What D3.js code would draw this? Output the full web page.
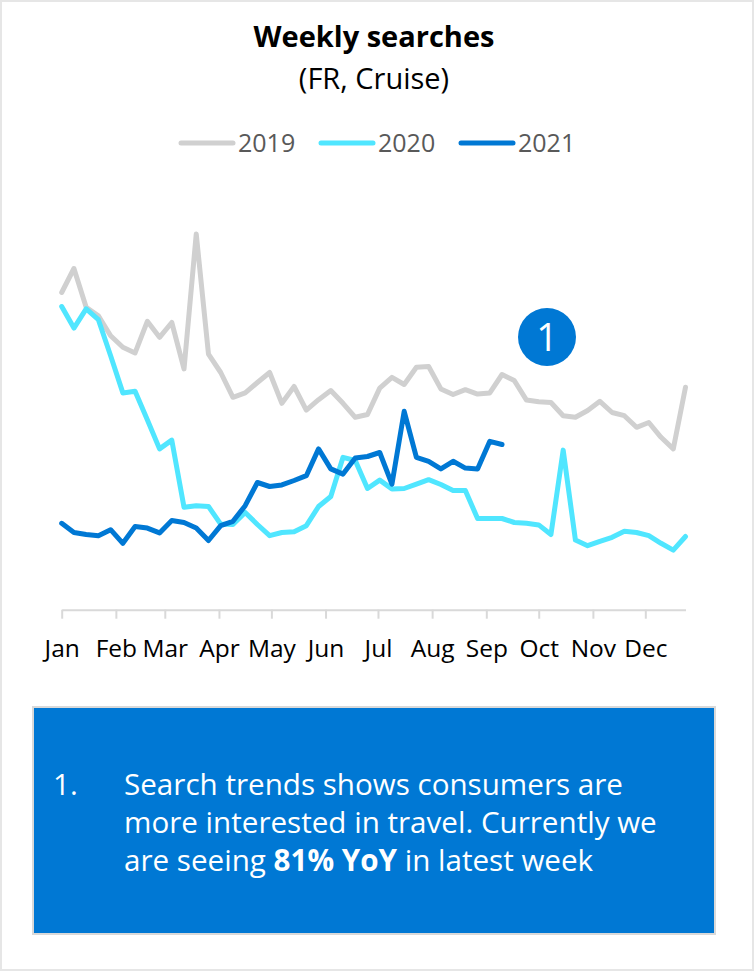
<!DOCTYPE html>
<html>
<head>
<meta charset="utf-8">
<script src="https://cdn.jsdelivr.net/npm/d3@7"></script>
<style>
  html, body { margin: 0; padding: 0; background: #fff; }
  svg { display: block; font-family: "Open Sans", "Noto Sans", sans-serif; }
</style>
</head>
<body>
<svg id="chart" width="754" height="971"></svg>
<script>
// Weekly search index, one value per week (week 1 .. 52)
const series2019 = [79.3, 85.3, 75.6, 73.5, 68.5, 65.6, 64.2, 72.1, 68.1, 71.8, 60.2, 93.9, 63.9,
  59.3, 53.1, 54.2, 56.8, 59.3, 51.6, 55.8, 49.9, 52.5, 54.8, 51.6, 48.1, 48.8, 55.4,
  58.1, 56.3, 60.6, 60.8, 55.2, 53.8, 55.0, 53.9, 54.2, 58.8, 57.3, 52.4, 52.0, 51.8,
  48.5, 48.1, 49.8, 52.1, 49.3, 48.5, 45.6, 46.8, 43.1, 40.2, 55.6];
const series2020 = [75.8, 70.4, 75.2, 72.5, 63.5, 54.2, 54.6, 47.5, 40.2, 42.4, 25.6, 26.0, 25.8,
  21.4, 21.3, 24.3, 21.3, 18.5, 19.3, 19.5, 21.0, 25.8, 28.3, 38.1, 37.3, 30.3, 32.4,
  30.2, 30.3, 31.4, 32.5, 31.3, 29.8, 29.8, 22.8, 22.8, 22.8, 21.8, 21.6, 21.2, 18.8,
  39.9, 17.4, 16.0, 17.1, 18.1, 19.6, 19.3, 18.5, 16.6, 14.9, 18.3];
const series2021 = [21.6, 19.3, 18.8, 18.5, 20.0, 16.6, 20.8, 20.4, 19.2, 22.3, 21.8, 20.4, 17.3,
  21.0, 22.1, 26.0, 31.8, 30.8, 31.2, 32.3, 33.5, 40.2, 35.2, 33.9, 37.9, 38.3, 39.3,
  31.4, 49.6, 38.1, 37.1, 35.2, 37.1, 35.4, 35.2, 42.1, 41.3];

const seriesNames = ["2019", "2020", "2021"];
const seriesColors = ["#d0d0d0", "#50e6ff", "#0078d4"];
const monthLabels = ["Jan", "Feb", "Mar", "Apr", "May", "Jun", "Jul", "Aug", "Sep", "Oct", "Nov", "Dec"];

const titleText = "Weekly searches";
const subtitleText = "(FR, Cruise)";
const badgeText = "1";
const noteNumber = "1.";
const noteLines = [
  [{ t: "Search trends shows consumers are" }],
  [{ t: "more interested in travel. Currently we" }],
  [{ t: "are seeing " }, { t: "81% YoY", bold: true }, { t: " in latest week" }]
];

// Week start dates along a calendar year
const yearStart = new Date(2019, 0, 1);
const weeks = d3.timeDay.range(yearStart, new Date(2019, 11, 25), 7);
const monthStarts = d3.timeMonth.range(yearStart, new Date(2020, 0, 1));

const svg = d3.select("#chart");
const W = 754, H = 971;

// Outer frame
svg.append("rect")
  .attr("x", 1).attr("y", 1).attr("width", W - 2).attr("height", H - 2)
  .attr("fill", "#fff").attr("stroke", "#e6e6e6").attr("stroke-width", 2);

// Titles
svg.append("text").attr("x", 374).attr("y", 47)
  .attr("text-anchor", "middle").attr("font-size", 29).attr("font-weight", 700)
  .attr("fill", "#000").text(titleText);
svg.append("text").attr("x", 374).attr("y", 89)
  .attr("text-anchor", "middle").attr("font-size", 29)
  .attr("fill", "#000").text(subtitleText);

// Legend
const legendX = [179, 319, 459];
const legend = svg.append("g");
seriesNames.forEach((name, i) => {
  const g = legend.append("g").attr("transform", `translate(${legendX[i]},143)`);
  g.append("line").attr("x1", 2).attr("x2", 54).attr("y1", 0).attr("y2", 0)
    .attr("stroke", seriesColors[i]).attr("stroke-width", 5).attr("stroke-linecap", "round");
  g.append("text").attr("x", 59).attr("y", 9).attr("font-size", 25)
    .attr("fill", "#595959").text(name);
});

// Scales
const x = d3.scaleTime()
  .domain([weeks[0], weeks[weeks.length - 1]])
  .range([61.7, 685.5]);
const y = d3.scaleLinear().domain([0, 100]).range([609.7, 209.7]);

// X axis with month ticks
const xAxis = d3.axisBottom(x)
  .tickValues(monthStarts)
  .tickSize(9)
  .tickSizeOuter(0)
  .tickPadding(21)
  .tickFormat((d, i) => monthLabels[i]);
const axisG = svg.append("g").attr("transform", `translate(0,${y(0)})`).call(xAxis);
axisG.select(".domain").attr("stroke", "#d9d9d9").attr("stroke-width", 2);
axisG.selectAll(".tick line").attr("stroke", "#d9d9d9").attr("stroke-width", 2);
axisG.selectAll(".tick text").attr("font-size", 24.5).attr("fill", "#000")
  .attr("font-family", "'Open Sans', sans-serif");

// Lines
const line = d3.line()
  .x((d, i) => x(weeks[i]))
  .y(d => y(d));
[series2019, series2020, series2021].forEach((s, i) => {
  svg.append("path").datum(s)
    .attr("d", line)
    .attr("fill", "none")
    .attr("stroke", seriesColors[i])
    .attr("stroke-width", 5)
    .attr("stroke-linejoin", "round")
    .attr("stroke-linecap", "round");
});

// Numbered callout marker
svg.append("circle").attr("cx", 547).attr("cy", 337).attr("r", 29).attr("fill", "#0078d4");
svg.append("text").attr("x", 547).attr("y", 351).attr("text-anchor", "middle")
  .attr("font-size", 38).attr("font-weight", 400).attr("fill", "#fff").text(badgeText);

// Note box
svg.append("rect").attr("x", 33).attr("y", 707).attr("width", 682).attr("height", 227)
  .attr("fill", "#0078d4").attr("stroke", "#d9d9d9").attr("stroke-width", 2);
svg.append("text").attr("x", 53).attr("y", 795).attr("font-size", 29.6)
  .attr("fill", "#fff").text(noteNumber);
noteLines.forEach((parts, i) => {
  const t = svg.append("text").attr("x", 124).attr("y", 795 + i * 38)
    .attr("font-size", 29.6).attr("fill", "#fff");
  parts.forEach(p => {
    t.append("tspan").attr("font-weight", p.bold ? 700 : 400).text(p.t);
  });
});
</script>
</body>
</html>
